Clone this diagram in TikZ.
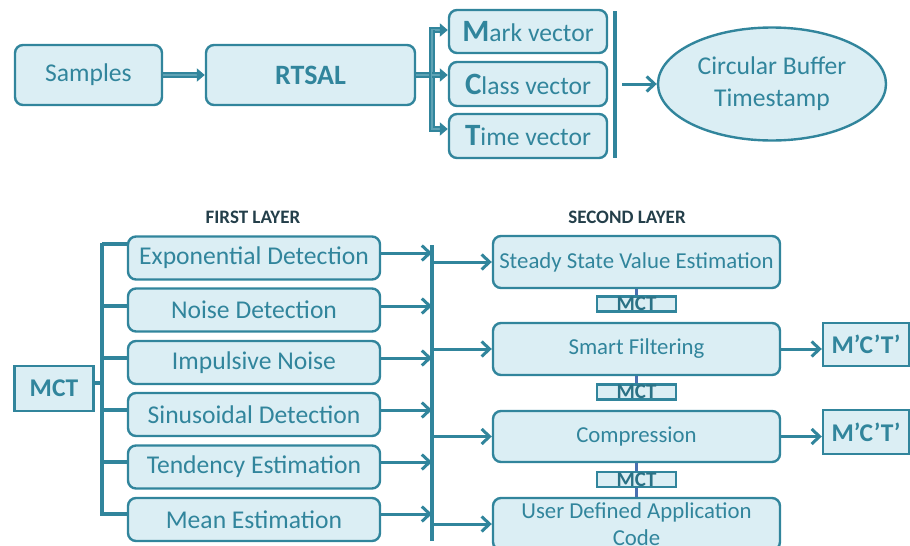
\documentclass[tikz,border=0pt]{standalone}
\usepackage{fontspec}
\setmainfont{Carlito}
\usetikzlibrary{arrows.meta,shapes.geometric}
\definecolor{tealline}{HTML}{31859C}
\definecolor{tealfill}{HTML}{DBEEF4}
\definecolor{tealmid}{HTML}{5FA3B5}
\definecolor{titlecol}{HTML}{243F4A}
\definecolor{linkcol}{HTML}{4A6FB0}
\begin{document}
\begin{tikzpicture}[x=1pt,y=-1pt,
  box/.style={draw=tealline, fill=tealfill, line width=2.4pt, rounded corners=8pt,
    text=tealline, inner sep=0pt, align=center},
  sqbox/.style={draw=tealline, fill=tealfill, line width=2.4pt, text=tealline,
    inner sep=0pt, align=center, font=\fontsize{25.5}{30}\selectfont\bfseries},
  tinybox/.style={draw=tealline, fill=tealfill, line width=2.2pt, text=tealline!85!black,
    inner sep=0pt, minimum width=79pt, minimum height=15pt,
    font=\fontsize{21}{20}\selectfont\bfseries},
  txA/.style={font=\fontsize{25.6}{32}\selectfont},
  txB/.style={font=\fontsize{22.8}{27}\selectfont},
  layer/.style={text=titlecol, font=\fontsize{19}{20}\selectfont\bfseries},
  bar/.style={draw=tealline, line width=4.5pt},
  wire/.style={draw=tealline, line width=3pt},
  arr/.style={draw=tealline, line width=3pt, -{Straight Barb[length=8pt,width=15pt,line width=3pt]}},
  dbl/.style={draw=tealline, line width=2.4pt, double=tealmid, double distance=2pt},
  dblarr/.style={dbl, -{Triangle[length=8pt,width=13pt]}},
  link/.style={draw=linkcol, line width=3pt}]
\useasboundingbox (0,0) rectangle (910,546);
\clip (0,0) rectangle (910,546);

% ---------- acquisition chain ----------
\node[box, txA, minimum width=147pt, minimum height=60pt] (samples) at (88.5,75) {Samples};
\node[box, minimum width=209pt, minimum height=60pt,
  font=\fontsize{28}{32}\selectfont\bfseries] (rtsal) at (310.5,75) {RTSAL};
\node[box, txA, minimum width=158pt, minimum height=43pt] (mark) at (528,31.5)
  {{\fontsize{31}{31}\selectfont\bfseries M}ark vector};
\node[box, txA, minimum width=158pt, minimum height=44pt] (class) at (528,84)
  {{\fontsize{31}{31}\selectfont\bfseries C}lass vector};
\node[box, txA, minimum width=158pt, minimum height=44pt] (time) at (528,136)
  {{\fontsize{31}{31}\selectfont\bfseries T}ime vector};
\node[ellipse, draw=tealline, fill=tealfill, line width=2.4pt, text=tealline,
  minimum width=228pt, minimum height=113pt, inner sep=0pt, align=center, txA]
  (buffer) at (772,84) {Circular Buffer\\Timestamp};

\draw[dblarr] (samples.east) -- (rtsal.west);
\coordinate (jt) at (432,30);
\coordinate (jm) at (432,75);
\coordinate (jb) at (432,129);
\draw[dbl] (rtsal.east) -- (jm);
\draw[dblarr] (jb) -- (jt) -- (jt -| mark.west);
\draw[dblarr] (jt) -- (jb) -- (jb -| time.west);
\draw[dblarr] (jm) -- (jm -| class.west);

\coordinate (vt) at (615,11);
\coordinate (vb) at (615,158);
\draw[bar] (vt) -- (vb);
\coordinate (vo) at (622,84);
\draw[arr] (vo) -- (buffer.west);

% ---------- layer titles ----------
\node[layer] (t1) at (253,217) {FIRST LAYER};
\node[layer] (t2) at (627,217) {SECOND LAYER};

% ---------- first layer ----------
\node[sqbox, minimum width=79pt, minimum height=45pt] (mct) at (54,388.5) {MCT};
\foreach \n/\y/\t in {e1/258/Exponential Detection, e2/310/Noise Detection,
    e3/362.5/Impulsive Noise, e4/414.5/Sinusoidal Detection,
    e5/467/Tendency Estimation, e6/519.5/Mean Estimation}{
  \node[box, txA, minimum width=252pt, minimum height=43pt] (\n) at (254,\y) {\t};
}

\coordinate (lt) at (102,243);
\coordinate (lb) at (102,516);
\draw[bar, line width=4pt] (lt) -- (lb);
\coordinate (lm) at (102,383);
\draw[wire, line width=4pt] (mct.east |- lm) -- (lm);
\foreach \n/\y in {e1/244, e2/306, e3/358, e4/410, e5/462, e6/514}{
  \coordinate (s\n) at (102,\y);
  \draw[wire, line width=4pt] (s\n) -- (s\n -| \n.west);
}

\coordinate (rt) at (432,245);
\coordinate (rb) at (432,541);
\draw[bar] (rt) -- (rb);
\foreach \n/\y in {e1/253, e2/306, e3/358, e4/410, e5/462, e6/514}{
  \coordinate (o\n) at (\n.east |- 0,\y);
  \draw[arr] (o\n) -- (o\n -| rt);
}

% ---------- second layer ----------
\node[box, txB, minimum width=287pt, minimum height=52pt] (ss) at (636.5,262)
  {Steady State Value Estimation};
\node[box, txB, minimum width=287pt, minimum height=52pt] (sf) at (636.5,349)
  {Smart Filtering};
\node[box, txB, minimum width=287pt, minimum height=51pt] (cp) at (636.5,436.5)
  {Compression};
\node[box, txB, minimum width=287pt, minimum height=52pt] (ud) at (636.5,524)
  {User Defined Application\\Code};

\foreach \n in {ss, sf, cp, ud}{
  \draw[arr] (rt |- \n.west) -- (\n.west);
}

\node[tinybox] (m1) at (636.5,304) {MCT};
\node[tinybox] (m2) at (636.5,392) {MCT};
\node[tinybox] (m3) at (636.5,479.5) {MCT};
\draw[link] (ss.south) -- (m1.north);
\draw[link] (sf.south) -- (m2.north);
\draw[link] (cp.south) -- (m3.north);
\draw[link] (m3.south) -- (ud.north);

\node[sqbox, minimum width=86pt, minimum height=43pt] (out1) at (866,344.5) {M’C’T’};
\node[sqbox, minimum width=86pt, minimum height=44pt] (out2) at (866,432) {M’C’T’};
\draw[arr] (sf.east) -- (sf.east -| out1.west);
\draw[arr] (cp.east) -- (cp.east -| out2.west);
\end{tikzpicture}
\end{document}
